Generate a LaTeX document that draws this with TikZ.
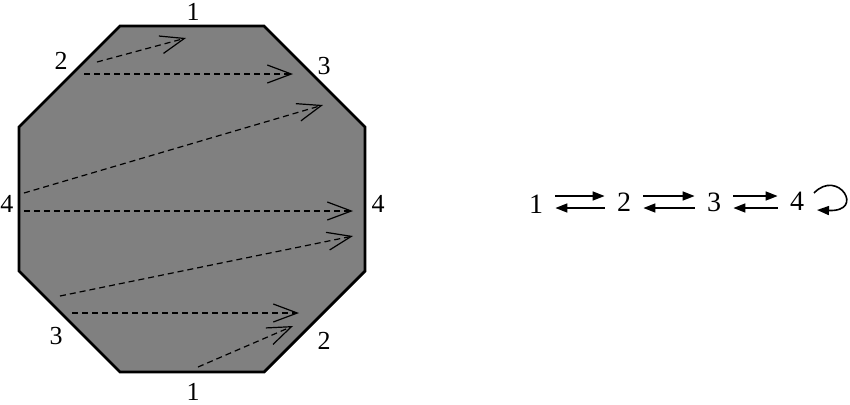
\documentclass[tikz,border=0pt]{standalone}
\usepackage{fontspec}
\setmainfont{Liberation Serif}
\usetikzlibrary{arrows.meta,calc}
\definecolor{octgray}{RGB}{128,128,128}
\tikzset{
  lbl/.style={inner sep=0pt,font=\fontsize{13}{15}\selectfont},
  st/.style={inner sep=0pt,font=\fontsize{14}{16}\selectfont},
  jump/.style={line width=0.6pt,dash pattern=on 3pt off 2pt,
    -{Straight Barb[length=12pt,width=9pt,line width=0.6pt]}},
  move/.style={line width=0.8pt,-{Triangle[length=6pt,width=4.5pt]}}
}
\begin{document}
\begin{tikzpicture}[x=0.5pt,y=-0.5pt]
    \useasboundingbox (0,0) rectangle (850,404);
    % the octagon
    \draw[fill=octgray,line width=1.4pt] (120,26) -- (264,26) -- (365,127) -- (365,271)
      -- (264,372) -- (120,372) -- (19,271) -- (19,127) -- cycle;
    \node[lbl] (t1) at (193,12) {1};
    \node[lbl] (b1) at (193,392) {1};
    \node[lbl] (u2) at (61,61) {2};
    \node[lbl] (d2) at (324,341) {2};
    \node[lbl] (u3) at (324,66) {3};
    \node[lbl] (d3) at (56,336) {3};
    \node[lbl] (l4) at (7,204) {4};
    \node[lbl] (r4) at (378,204) {4};

    % the dashed jumps
    \coordinate (a1) at (97,62);   \coordinate (a2) at (186,38);
    \coordinate (b1s) at (84,74);  \coordinate (b2) at (293,74);
    \coordinate (c1) at (24,193);  \coordinate (c2) at (323,105);
    \coordinate (e1) at (24,211);  \coordinate (e2) at (353,211);
    \coordinate (f1) at (60,296);  \coordinate (f2) at (353,236);
    \coordinate (g1) at (72,313);  \coordinate (g2) at (299,313);
    \coordinate (h1) at (198,367); \coordinate (h2) at (293,326);
    \foreach \s/\e in {a1/a2,b1s/b2,c1/c2,e1/e2,f1/f2,g1/g2,h1/h2}
        \draw[jump] (\s) -- (\e);

    % the chain of states
    \node[st] (s1) at (536,204) {1};
    \node[st] (s2) at (624,202) {2};
    \node[st] (s3) at (714,202) {3};
    \node[st] (s4) at (797,201) {4};
    \coordinate (up) at (0,196);
    \coordinate (dn) at (0,208);
    \foreach \a/\b in {s1/s2,s2/s3,s3/s4}{
        \draw[move] ($(\a.east |- up)+(12,0)$) -- ($(\b.west |- up)+(-12,0)$);
        \draw[move] ($(\b.west |- dn)+(-12,0)$) -- ($(\a.east |- dn)+(12,0)$);
    }
    \coordinate (lp1) at (814,193);
    \coordinate (lp2) at (817,210);
    \draw[move] (lp1) .. controls (838,168) and (866,212) .. (lp2);
\end{tikzpicture}
\end{document}
